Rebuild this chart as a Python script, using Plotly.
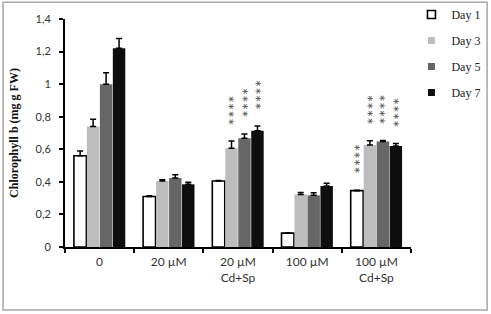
import plotly.graph_objects as go

categories = ["0", "20 µM", "20 µM<br>Cd+Sp", "100 µM", "100 µM<br>Cd+Sp"]
series_names = ["Day 1", "Day 3", "Day 5", "Day 7"]
day1 = [0.56, 0.31, 0.405, 0.085, 0.346]
day3 = [0.74, 0.405, 0.606, 0.323, 0.626]
day5 = [1.00, 0.424, 0.667, 0.317, 0.648]
day7 = [1.22, 0.385, 0.714, 0.374, 0.620]
err1 = [0.03, 0.004, 0.004, 0.003, 0.003]
err3 = [0.045, 0.008, 0.045, 0.012, 0.026]
err5 = [0.07, 0.02, 0.027, 0.016, 0.006]
err7 = [0.06, 0.012, 0.029, 0.017, 0.016]
# significance marks: (category index, series index)
sig_marks = [(2, 1), (2, 2), (2, 3), (4, 0), (4, 1), (4, 2), (4, 3)]

values = [day1, day3, day5, day7]
errors = [err1, err3, err5, err7]
fills = ["#ffffff", "#bdbdbd", "#666666", "#0e0e0e"]
lines = ["#000000", "#bdbdbd", "#666666", "#0e0e0e"]
lwidth = [1.6, 0, 0, 0]

fig = go.Figure()
for i, name in enumerate(series_names):
    fig.add_trace(go.Bar(
        x=categories, y=values[i], name=name, showlegend=False,
        marker=dict(color=fills[i], line=dict(color=lines[i], width=lwidth[i])),
        error_y=dict(type="data", array=errors[i], arrayminus=[0] * len(categories),
                     symmetric=False, color="#000000", thickness=1.5, width=3),
    ))
# legend entries (small square keys)
for i, name in enumerate(series_names):
    fig.add_trace(go.Scatter(
        x=[None], y=[None], mode="markers", name=name, legendgroup=name,
        marker=dict(symbol="square", size=8 if i == 0 else 7, color=fills[i],
                    line=dict(color="#000000" if i == 0 else lines[i], width=1.6 if i == 0 else 0)),
    ))

# significance asterisks
offsets = [-0.375 + 0.25 * k for k in range(4)]
for ci, si in sig_marks:
    top = values[si][ci] + errors[si][ci]
    fig.add_annotation(
        x=ci + offsets[si] * 0.76, y=top, xref="x", yref="y",
        text="∗∗∗∗", textangle=-90, showarrow=False,
        yanchor="bottom", yshift=14,
        font=dict(family="DejaVu Sans", size=9, color="#555555"),
    )

fig.update_layout(
    width=491, height=314,
    margin=dict(l=65, r=80, t=19, b=67, autoexpand=False),
    paper_bgcolor="white", plot_bgcolor="white",
    barmode="group", bargap=0.25, bargroupgap=0.04,
    separators=",.",
    showlegend=True,
    legend=dict(xref="container", yref="container", x=0.838, y=1.02,
                xanchor="left", yanchor="top",
                font=dict(family="Liberation Serif", size=12, color="#222222"),
                tracegroupgap=7, itemwidth=30, bgcolor="rgba(0,0,0,0)"),
    font=dict(family="Lato", size=11, color="#333333"),
    shapes=[dict(type="rect", xref="paper", yref="paper",
                 x0=-0.179, x1=1.220, y0=-0.276, y1=1.074,
                 line=dict(color="#a8a8a8", width=1.5), fillcolor="rgba(0,0,0,0)", layer="below")],
)
fig.update_xaxes(
    type="category", tickson="boundaries", ticks="outside", ticklen=4, tickwidth=2,
    tickcolor="black", showline=True, linecolor="black", linewidth=2, automargin=False,
    showgrid=False, tickfont=dict(family="Lato", size=12, color="#333333"),
    ticklabelstandoff=3,
)
fig.update_yaxes(
    range=[0, 1.4], dtick=0.2, ticks="outside", ticklen=4, tickwidth=2,
    tickcolor="black", showline=True, linecolor="black", linewidth=2, automargin=False,
    showgrid=False, zeroline=False, ticklabelstandoff=6,
    tickfont=dict(family="Lato", size=11, color="#333333"),
    title=dict(text="<b>Chlorophyll b (mg g FW)</b>",
               font=dict(family="Liberation Serif", size=12, color="#111111"), standoff=14),
)

fig.write_html("out.html", config={"displayModeBar": False},
               post_script="document.body.style.margin='0';document.body.style.overflow='hidden';")
